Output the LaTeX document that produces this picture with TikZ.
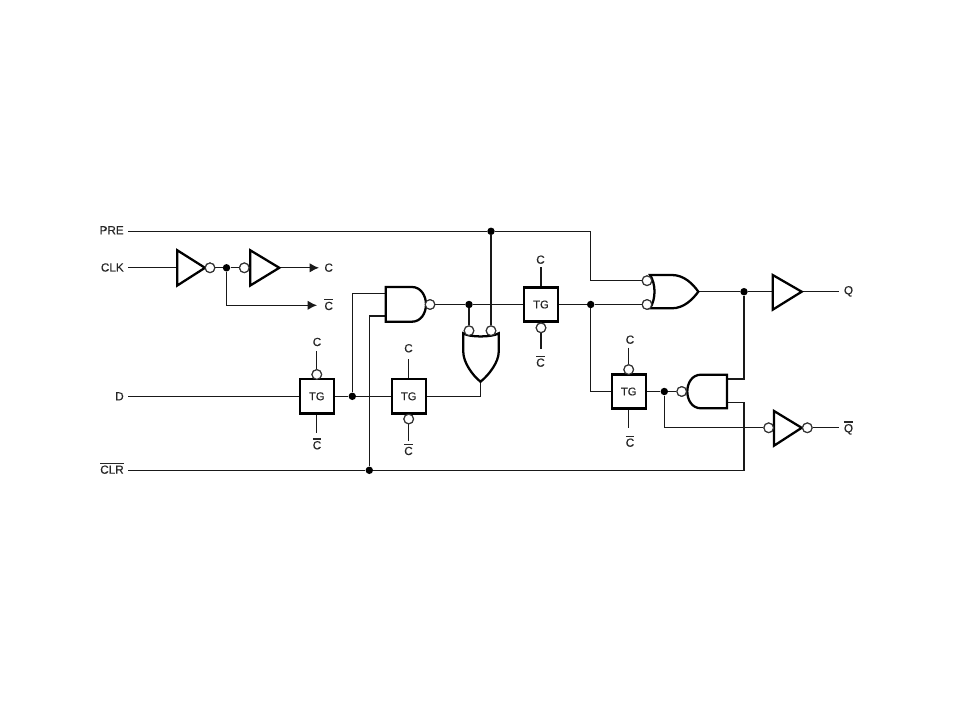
\documentclass[tikz,border=0pt]{standalone}
\usepackage{fontspec}
\setmainfont{Liberation Sans}
\newfontfamily\lab{Liberation Sans}[RawFeature={embolden=0.35}]
\usetikzlibrary{arrows.meta}
\newcommand{\ovl}[1]{\leavevmode\vbox{\hrule height 1pt\kern 1pt\hbox{#1}}}
\tikzset{
  wire/.style={line width=0.95pt,draw=black!90,line join=miter},
  gate/.style={line width=1.7pt,draw=black,fill=white,line join=miter},
  bubble/.style={circle,draw=black!80,fill=white,line width=0.85pt,minimum size=7.2pt,inner sep=0pt},
  jdot/.style={circle,fill=black,minimum size=5.6pt,inner sep=0pt},
  tg/.style={rectangle,draw=black,fill=white,line width=1.7pt,minimum width=25.6pt,minimum height=25.6pt,inner sep=0pt,font=\lab\fontsize{8.4}{10}\selectfont,text=black!85},
  lbl/.style={inner sep=0pt,anchor=base,font=\lab\fontsize{8.8}{10}\selectfont,text=black!85},
  lbr/.style={lbl,anchor=base east},
  tip/.style={-{Latex[length=7pt,width=7pt]}}
}
\begin{document}
\begin{tikzpicture}[x=0.75pt,y=-0.75pt]
\useasboundingbox (0,0) rectangle (960,720);
\fill[white] (0,0) rectangle (960,720);

% labels on the left and their free wire ends
\node[lbr] (lpre) at (124,234.3) {PRE};
\node[lbr] (lclk) at (124,271.5) {CLK};
\node[lbr] (ld) at (124,400.3) {D};
\node[lbr] (lclr) at (124,473.7) {\ovl{CLR}};
\coordinate (inpre) at (128,231.3);
\coordinate (inclk) at (128,267.8);
\coordinate (ind) at (128,396.3);
\coordinate (inclr) at (128,470.3);

% junctions
\node[jdot] (jpre) at (491,231.3) {};
\node[jdot] (jclk) at (226.5,267.8) {};
\node[jdot] (jd) at (352.3,396.3) {};
\node[jdot] (jclr) at (369.3,470.3) {};
\node[jdot] (jn) at (469,304.5) {};
\node[jdot] (jt) at (590.7,304.5) {};
\node[jdot] (jf) at (664.3,391.5) {};
\node[jdot] (jq) at (744,291.7) {};

% transmission gates
\node[tg] (tga) at (316.8,396.3) {TG};
\node[tg] (tgb) at (408.7,396.3) {TG};
\node[tg] (tgc) at (541,304.5) {TG};
\node[tg] (tgd) at (628.7,391.5) {TG};

% bubbles
\node[bubble] (ba) at (210,267.8) {};
\node[bubble] (bb) at (244.3,267.8) {};
\node[bubble] (bc) at (430,304.5) {};
\node[bubble] (bd) at (469,330.7) {};
\node[bubble] (be) at (491,330.7) {};
\node[bubble] (bf) at (647,280.7) {};
\node[bubble] (bg) at (647,304.5) {};
\node[bubble] (bh) at (681.7,391.5) {};
\node[bubble] (bi) at (768.7,427.8) {};
\node[bubble] (bj) at (807.3,427.8) {};
\node[bubble] (tb1) at (316.8,374.5) {};
\node[bubble] (tb2) at (408.7,419) {};
\node[bubble] (tb3) at (541,327.8) {};
\node[bubble] (tb4) at (628.7,369.6) {};

% pins
\coordinate (ca) at (319,267.8);
\coordinate (cb) at (317,305.3);
\coordinate (cs) at (279,267.8);
\coordinate (t1a) at (316.8,351);
\coordinate (t1b) at (316.8,433);
\coordinate (t2a) at (408.7,359.3);
\coordinate (t2b) at (408.7,441);
\coordinate (t3a) at (541,267.3);
\coordinate (t3b) at (541,349);
\coordinate (t4a) at (628.7,347.7);
\coordinate (t4b) at (628.7,428.3);
\coordinate (na) at (385.7,293.3);
\coordinate (nb) at (385.7,316);
\coordinate (oo) at (480.5,381.7);
\coordinate (nc) at (727,379);
\coordinate (nd) at (727,402.3);
\coordinate (oq) at (698.3,291.7);
\coordinate (qi) at (773,291.7);
\coordinate (qo) at (801.7,291.7);
\coordinate (qe) at (839,291.7);
\coordinate (qb) at (839,427.8);
\coordinate (ic) at (177,267.8);

% wires
\draw[wire] (inpre) -- (jpre) -- (jpre -| jt) |- (bf);
\draw[wire] (inclk) -- (ic);
\draw[wire] (ba) -- (jclk) -- (bb);
\draw[wire,tip] (cs) -- (ca);
\draw[wire,tip] (jclk) |- (cb);
\draw[wire] (ind) -- (tga);
\draw[wire] (tga) -- (jd) -- (tgb);
\draw[wire] (jd) |- (na);
\draw[wire] (inclr) -- (jclr) -- (jclr -| jq) |- (nd);
\draw[wire] (jclr) |- (nb);
\draw[wire] (bc) -- (jn) -- (tgc);
\draw[wire] (jn) -- (bd);
\draw[wire] (jpre) -- (be);
\draw[wire] (tgb) -| (oo);
\draw[wire] (tgc) -- (jt) -- (bg);
\draw[wire] (jt) |- (tgd);
\draw[wire] (tgd) -- (jf) -- (bh);
\draw[wire] (jf) |- (bi);
\draw[wire] (oq) -- (jq) -- (qi);
\draw[wire] (jq) |- (nc);
\draw[wire] (qo) -- (qe);
\draw[wire] (bj) -- (qb);
\draw[wire] (t1a) -- (tb1);
\draw[wire] (tga) -- (t1b);
\draw[wire] (t2a) -- (tgb);
\draw[wire] (tb2) -- (t2b);
\draw[wire] (t3a) -- (tgc);
\draw[wire] (tb3) -- (t3b);
\draw[wire] (t4a) -- (tb4);
\draw[wire] (tgd) -- (t4b);

% inverters and buffers
\draw[gate] (177.3,250.3) -- (205,267.8) -- (177.3,285.5) -- cycle;
\draw[gate] (250.3,250.3) -- (279.3,267.8) -- (250.3,285.5) -- cycle;
\draw[gate] (772.7,275) -- (801.7,291.7) -- (772.7,309.7) -- cycle;
\draw[gate] (774,411) -- (801.7,427.8) -- (774,445.7) -- cycle;

% NAND gates
\draw[gate] (385.7,287) -- (412,287) .. controls (421,287) and (426,296) .. (426,304.4)
  .. controls (426,313) and (421,321.7) .. (412,321.7) -- (385.7,321.7) -- cycle;
\draw[gate] (727,374.7) -- (701,374.7) .. controls (692,374.7) and (687.3,383) .. (687.3,391.5)
  .. controls (687.3,400) and (692,408.3) .. (701,408.3) -- (727,408.3) -- cycle;

% OR gate, pointing down
\draw[gate] (463.3,333.3) .. controls (469,337.5) and (492,337.5) .. (498.7,333.3)
  -- (498.7,352) .. controls (498.7,362) and (489,375) .. (480.5,381.7)
  .. controls (472,375) and (463.3,362) .. (463.3,352) -- cycle;
% OR gate, pointing right
\draw[gate] (650,275) -- (672,275) .. controls (684,275) and (693,284) .. (698.3,291.7)
  .. controls (693,299) and (684,308.3) .. (672,308.3) -- (650,308.3)
  .. controls (656,299) and (656,284) .. (650,275) -- cycle;

% boxes and bubbles stay on top of the wires
\node[tg] at (tga) {TG};
\node[tg] at (tgb) {TG};
\node[tg] at (tgc) {TG};
\node[tg] at (tgd) {TG};
\foreach \b in {ba,bb,bc,bd,be,bf,bg,bh,bi,bj,tb1,tb2,tb3,tb4}{\node[bubble] at (\b) {};}

% signal labels
\node[lbl] (lc1) at (328.7,271.7) {C};
\node[lbl] (lc2) at (328.7,310) {\ovl{C}};
\node[lbl] (lc3) at (317,346) {C};
\node[lbl] (lc4) at (317,449.3) {\ovl{C}};
\node[lbl] (lc5) at (408.5,352.3) {C};
\node[lbl] (lc6) at (408.5,455) {\ovl{C}};
\node[lbl] (lc7) at (540.5,263.7) {C};
\node[lbl] (lc8) at (540.5,366.7) {\ovl{C}};
\node[lbl] (lc9) at (630,343.7) {C};
\node[lbl] (lc10) at (630,446.7) {\ovl{C}};
\node[lbl] (lq) at (848.5,294.3) {Q};
\node[lbl] (lqb) at (848.5,432.3) {\ovl{Q}};
\end{tikzpicture}
\end{document}
